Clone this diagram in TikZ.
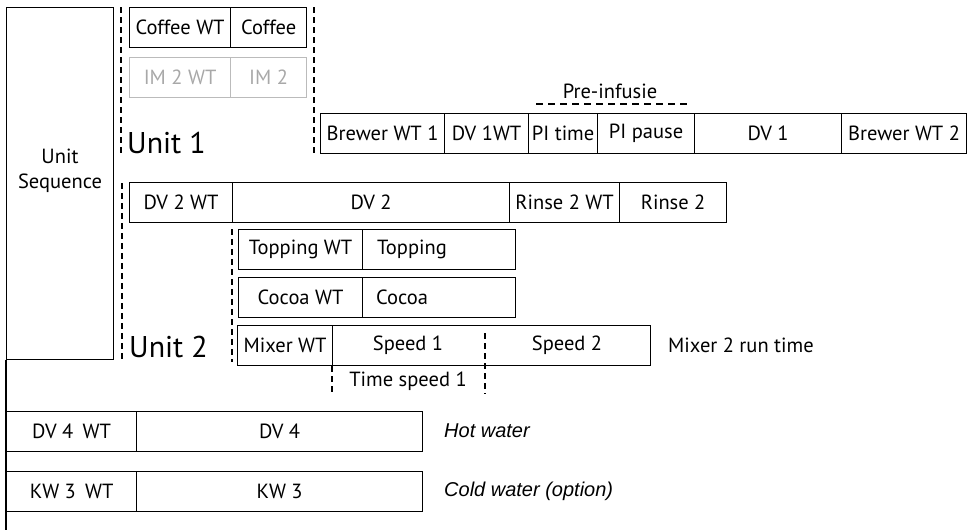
\documentclass[tikz,border=0pt]{standalone}
\usepackage{fontspec}
\setmainfont{PT Sans}
\newfontfamily\arialfont{Liberation Sans}
\definecolor{imgray}{HTML}{BBBBBB}
\definecolor{imtext}{HTML}{A8A8A8}
\newcommand{\cellbox}[6][]{\node[cell,#1,minimum width={(#4-#3)*1pt}] (#2) at (#3,#5) {#6};}
\tikzset{
  cell/.style={draw, line width=1.2pt, inner sep=0pt, minimum height=40pt, anchor=north west,
    font=\fontsize{20.5}{22}\selectfont},
  gcell/.style={draw=imgray, text=imtext},
  dline/.style={line width=1.3pt, dash pattern=on 6pt off 4pt},
  txt/.style={inner sep=0pt, font=\fontsize{20.5}{22}\selectfont},
  unitlbl/.style={inner sep=0pt, anchor=base west, font=\fontsize{30}{32}\selectfont},
  itl/.style={inner sep=0pt, anchor=west, font=\arialfont\itshape\fontsize{20}{22}\selectfont}
}
\begin{document}
\begin{tikzpicture}[x=1pt,y=-1pt]
\useasboundingbox (0,0) rectangle (972,530);
% Unit sequence
\node[draw, line width=1.2pt, inner sep=0pt, anchor=north west, minimum width=107pt, minimum height=352pt] (useq) at (6,7) {};
\node[txt, align=center] (useqt) at (60,171) {Unit\\[3pt]Sequence};
\draw[line width=1.2pt] (useq.south west) -- (6,530);
% Unit 1
\draw[dline] (121,7) -- (121,156);
\draw[dline] (314,7) -- (314,156);
\cellbox{cofwt}{129}{230}{7}{Coffee WT}
\cellbox{cof}{230}{306}{7}{Coffee}
\cellbox[gcell]{imwt}{129}{230}{57}{IM 2 WT}
\cellbox[gcell]{im}{230}{306}{57}{IM 2}
\node[unitlbl] (u1) at (127,153) {Unit 1};
% Brewer row
\cellbox{bwt1}{320}{444}{113}{Brewer WT 1}
\cellbox{dv1wt}{444}{528}{113}{DV 1WT}
\cellbox{pit}{528}{597}{113}{PI time}
\cellbox{pip}{597}{694}{113}{PI pause}
\cellbox{dv1}{694}{841}{113}{DV 1}
\cellbox{bwt2}{841}{966}{113}{Brewer WT 2}
\node[txt] (pre) at (610,91) {Pre-infusie};
\draw[dline, dash pattern=on 7pt off 5pt] (536,104) -- (688,104);
% Unit 2
\draw[dline] (122,183) -- (122,360);
\cellbox{dv2wt}{129}{232}{182}{DV 2 WT}
\cellbox{dv2}{232}{509}{182}{DV 2}
\cellbox{r2wt}{509}{619}{182}{Rinse 2 WT}
\cellbox{r2}{619}{726}{182}{Rinse 2}
\draw[dline] (232,229) -- (232,362);
\cellbox{topwt}{238}{362}{229}{Topping WT}
\cellbox{top}{362}{515}{229}{}
\node[txt, anchor=west] (topt) at (377,249) {Topping};
\cellbox{cocwt}{238}{362}{277}{Cocoa WT}
\cellbox{coc}{362}{515}{277}{}
\node[txt, anchor=west] (coct) at (376,297) {Cocoa};
\cellbox{mixwt}{237}{332}{325}{Mixer WT}
\node[cell, minimum width=318pt] (mix) at (332,325) {};
\node[txt] (sp1) at (408,345) {Speed 1};
\node[txt] (sp2) at (567,345) {Speed 2};
\draw[dline] (485,333) -- (485,394);
\draw[dline] (332,366) -- (332,394);
\node[txt] (tsp1) at (408,381) {Time speed 1};
\node[txt, anchor=west] (mrt) at (668,345) {Mixer 2 run time};
\node[unitlbl] (u2) at (129,357) {Unit 2};
% water rows
\cellbox{dv4wt}{6}{136}{411}{DV 4\hspace{0.45em}WT}
\cellbox{dv4}{136}{422}{411}{DV 4}
\node[itl] (hot) at (444,431) {Hot water};
\cellbox{kw3wt}{6}{136}{471}{KW 3\hspace{0.45em}WT}
\cellbox{kw3}{136}{422}{471}{KW 3}
\node[itl] (cold) at (444,491) {Cold water (option)};
\end{tikzpicture}
\end{document}
